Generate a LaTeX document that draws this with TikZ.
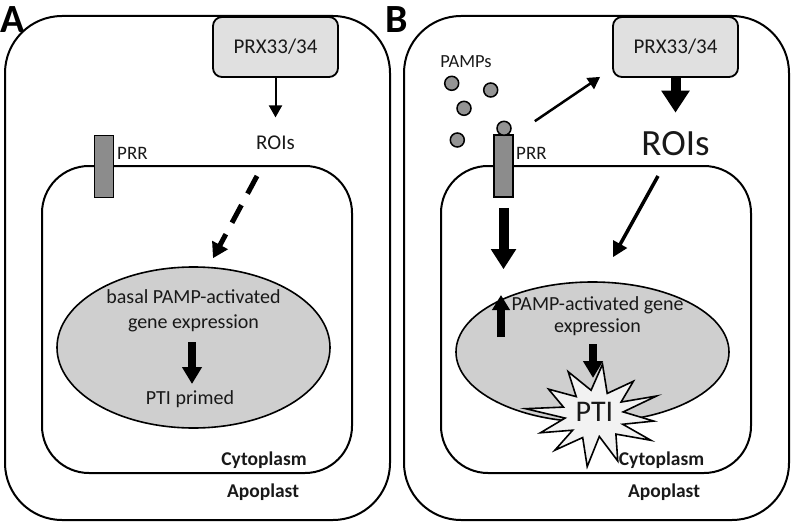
\documentclass[tikz,border=0pt]{standalone}
\usepackage{fontspec}
\setmainfont{Carlito}
\usetikzlibrary{arrows.meta,shapes.geometric}
\definecolor{boxgray}{gray}{0.88}
\definecolor{nucgray}{gray}{0.81}
\definecolor{prrgray}{gray}{0.55}
\definecolor{pampgray}{gray}{0.58}
\definecolor{stargray}{gray}{0.95}
\definecolor{inkc}{gray}{0.1}
\begin{document}
\begin{tikzpicture}[x=1pt,y=-1pt,
  every node/.style={text=inkc},
  outercell/.style={draw=black, line width=2pt, rounded corners=57pt, minimum width=385pt, minimum height=504pt, inner sep=0pt},
  innercell/.style={draw=black, line width=2pt, rounded corners=47pt, minimum width=310pt, minimum height=307pt, inner sep=0pt},
  prxbox/.style={draw=black, line width=1.8pt, rounded corners=9pt, fill=boxgray, minimum width=125pt, minimum height=60pt, inner sep=0pt, font=\fontsize{21}{24}\selectfont},
  nucleus/.style={draw=black, ellipse, line width=1.6pt, fill=nucgray, inner sep=0pt},
  prrbar/.style={draw=black, line width=1.6pt, fill=prrgray, inner sep=0pt, minimum width=19pt, minimum height=62pt},
  pamp/.style={draw=black, circle, line width=1.5pt, fill=pampgray, minimum size=14pt, inner sep=0pt},
  txt/.style={inner sep=0pt, font=\fontsize{20}{25}\selectfont, align=center},
  smalltxt/.style={inner sep=0pt, font=\fontsize{19}{22}\selectfont, anchor=west},
  compart/.style={inner sep=0pt, font=\fontsize{19.5}{22}\selectfont\bfseries},
  panel/.style={inner sep=0pt, font=\fontsize{40}{40}\selectfont\bfseries, text=black},
  thinarrow/.style={draw=black, line width=2pt, -{Triangle[width=13pt,length=12pt]}},
  midarrow/.style={draw=black, line width=3.5pt, -{Triangle[width=15pt,length=15pt]}},
  bigarrow/.style={draw=black, line width=10pt, -{Triangle[width=27pt,length=22pt]}},
  blockarrow/.style={draw=black, line width=8.5pt, -{Triangle[width=19pt,length=17pt]}},
  dasharrow/.style={draw=black, line width=5pt, dash pattern=on 20pt off 13pt, -{Triangle[width=17pt,length=15pt]}}
]
\useasboundingbox (0,0) rectangle (792,524);

% ---------------- Panel A ----------------
\node[panel] (labA) at (13,20) {A};
\node[outercell] (outA) at (197.5,268) {};
\node[innercell] (inA) at (197,319.5) {};
\node[prxbox] (prxA) at (275.5,47) {PRX33/34};
\node[inner sep=0pt, font=\fontsize{21}{24}\selectfont] (roisA) at (275.5,142.5) {ROIs};
\node[prrbar] (prrA) at (104,166.5) {};
\node[smalltxt] (prrtA) at (117,153) {PRR};
\node[nucleus, minimum width=273pt, minimum height=161pt] (ellA) at (193.5,347.5) {};
\node[txt] (geneA) at (193.5,311) {basal PAMP-activated\\gene expression};
\node[txt] (ptiA) at (190,399) {PTI primed};
\node[compart] (cytA) at (264,460) {Cytoplasm};
\node[compart] (apoA) at (263,492) {Apoplast};
\coordinate (arrAfrom) at (192,342);
\coordinate (arrAto) at (192,384);

\draw[thinarrow, shorten >=18pt] (prxA.south) -- (roisA.north);
\draw[dasharrow] ([shift={(-18.5,33.5)}]roisA.center) -- ([shift={(19.5,-8)}]ellA.north);
\draw[blockarrow] (arrAfrom) -- (arrAto);

% ---------------- Panel B ----------------
\node[panel] (labB) at (397,20) {B};
\node[outercell] (outB) at (596.5,268) {};
\node[innercell] (inB) at (596,319.5) {};
\node[prxbox] (prxB) at (675.5,47) {PRX33/34};
\node[inner sep=0pt, font=\fontsize{37}{40}\selectfont] (roisB) at (675.5,144) {ROIs};
\node[inner sep=0pt, font=\fontsize{18.5}{22}\selectfont] (pampsB) at (466,62) {PAMPs};
\node[pamp] (p1) at (451.7,83.3) {};
\node[pamp] (p2) at (490.7,90) {};
\node[pamp] (p3) at (464,108.3) {};
\node[pamp] (p4) at (457.3,140) {};
\node[prrbar] (prrB) at (503.5,166) {};
\node[pamp] (p5) at (504,128.3) {};
\node[smalltxt] (prrtB) at (516,153) {PRR};
\node[nucleus, minimum width=273pt, minimum height=140pt] (ellB) at (592.5,352) {};

\begin{scope}[shift={(595,415)}]
\draw[line width=1.6pt, fill=stargray, line join=miter, miter limit=20]
  plot[samples at={0,...,23}, variable=\k]
  ({((mod(\k,2)==0) ? (64+6*sin(\k*77)) : (31+3*cos(\k*51)))*cos(\k*15+97)},
   {((mod(\k,2)==0) ? (47+5*cos(\k*63)) : (23+2*sin(\k*41)))*sin(\k*15+97)}) -- cycle;
\end{scope}

\node[inner sep=0pt, font=\fontsize{30}{32}\selectfont] (ptiB) at (594.5,412) {PTI};
\node[txt, font=\fontsize{20}{22}\selectfont] (geneB) at (597.5,316) {PAMP-activated gene\\expression};
\node[compart] (cytB) at (661.5,460) {Cytoplasm};
\node[compart] (apoB) at (664,492) {Apoplast};
\coordinate (upBfrom) at (501,337);
\coordinate (upBto) at (501,295);
\coordinate (dnBfrom) at (593,344);
\coordinate (dnBto) at (593,378);

\draw[bigarrow, shorten >=19pt] (prxB.south) -- (roisB.north);
\draw[thinarrow, line width=2.5pt] ([shift={(21,-13)}]prrB.north east) -- ([shift={(-12,-1)}]prxB.south west);
\draw[midarrow] ([shift={(-17.5,32)}]roisB.center) -- ([shift={(20.5,-24)}]ellB.north);
\draw[bigarrow, line width=10pt, -{Triangle[width=24pt,length=20pt]}, shorten <=10pt, shorten >=12pt] (prrB.south) -- (prrB.south |- ellB.north);
\draw[blockarrow, -{Triangle[width=17pt,length=15pt]}] (upBfrom) -- (upBto);
\draw[blockarrow] (dnBfrom) -- (dnBto);
\end{tikzpicture}
\end{document}
